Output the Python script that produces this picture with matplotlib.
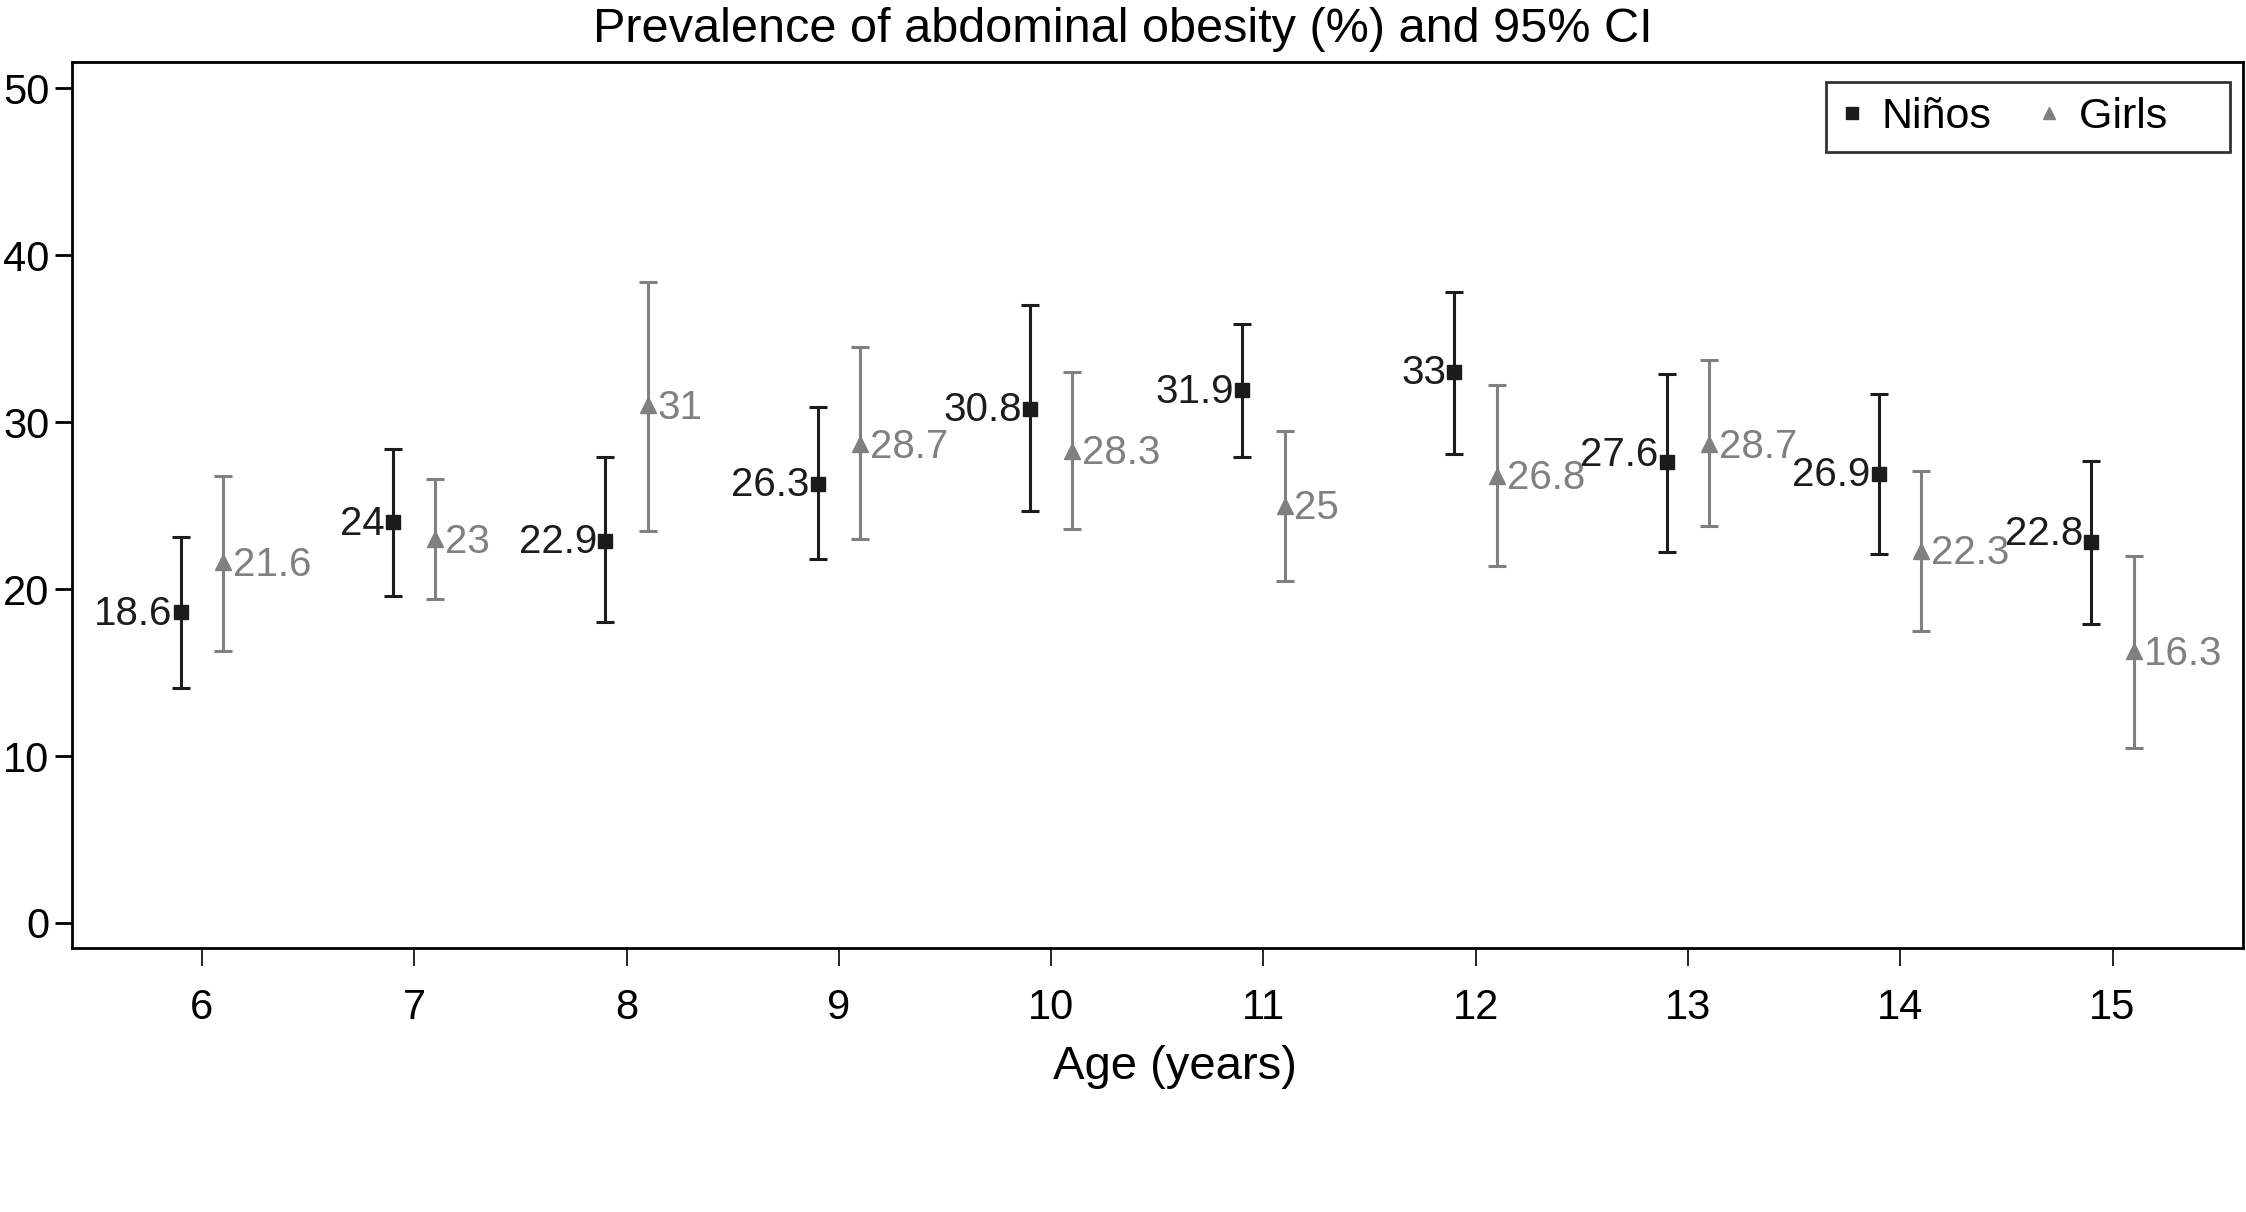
import numpy as np
import matplotlib
matplotlib.use("Agg")
import matplotlib.pyplot as plt
from matplotlib.lines import Line2D

plt.rcParams['font.family'] = ['Liberation Sans', 'DejaVu Sans']

# datos
ages = [6, 7, 8, 9, 10, 11, 12, 13, 14, 15]

boys = [18.6, 24, 22.9, 26.3, 30.8, 31.9, 33, 27.6, 26.9, 22.8]
boys_lo = [14.1, 19.6, 18.0, 21.8, 24.7, 27.9, 28.1, 22.2, 22.1, 17.9]
boys_hi = [23.1, 28.4, 27.9, 30.9, 37.0, 35.9, 37.8, 32.9, 31.7, 27.7]

girls = [21.6, 23, 31, 28.7, 28.3, 25, 26.8, 28.7, 22.3, 16.3]
girls_lo = [16.3, 19.4, 23.5, 23.0, 23.6, 20.5, 21.4, 23.8, 17.5, 10.5]
girls_hi = [26.8, 26.6, 38.4, 34.5, 33.0, 29.5, 32.2, 33.7, 27.1, 22.0]

boys_txt = ["18.6", "24", "22.9", "26.3", "30.8", "31.9", "33", "27.6", "26.9", "22.8"]
girls_txt = ["21.6", "23", "31", "28.7", "28.3", "25", "26.8", "28.7", "22.3", "16.3"]

c_boys = "#1c1c1c"
c_girls = "#808080"

x = np.array(ages, dtype=float)
b = np.array(boys)
g = np.array(girls)

fig = plt.figure(figsize=(22.46, 12.12), dpi=100)
ax = fig.add_axes([0.0319, 0.2178, 0.9668, 0.7314])

ax.errorbar(x - 0.1, b, yerr=[b - np.array(boys_lo), np.array(boys_hi) - b],
            fmt="s", color=c_boys, ecolor=c_boys, markersize=10, elinewidth=2.2,
            capsize=6.5, capthick=2.2, zorder=3)
ax.errorbar(x + 0.1, g, yerr=[g - np.array(girls_lo), np.array(girls_hi) - g],
            fmt="^", color=c_girls, ecolor=c_girls, markersize=11, elinewidth=2.2,
            capsize=6.5, capthick=2.2, zorder=3)

# etiquetas de los valores (algunas van un poco arriba)
up = {7: 6, 9: 7}
for i in range(len(ages)):
    ax.annotate(boys_txt[i], (x[i] - 0.1, b[i]), xytext=(-6, -1 + up.get(i, 0)),
                textcoords="offset points", ha="right", va="center",
                fontsize=29, color=c_boys)
    ax.annotate(girls_txt[i], (x[i] + 0.1, g[i]), xytext=(7, -2),
                textcoords="offset points", ha="left", va="center",
                fontsize=29, color=c_girls)

ax.set_xlim(5.386, 15.615)
ax.set_ylim(-1.5, 51.6)
ax.set_xticks(ages)
ax.set_yticks([0, 10, 20, 30, 40, 50])
ax.tick_params(axis="y", length=12, width=2, pad=4, labelsize=30)
ax.tick_params(axis="x", length=13, width=1.2, pad=16, labelsize=30)
for s in ax.spines.values():
    s.set_linewidth(2)

ax.set_xlabel("Age (years)", fontsize=34)
ax.xaxis.set_label_coords(0.508, -0.134)
ax.xaxis.label.set_va("center")
fig.text(0.5, 0.976, "Prevalence of abdominal obesity (%) and 95% CI",
         ha="center", va="center", fontsize=35)

handles = [Line2D([], [], marker="s", color=c_boys, linestyle="none", markersize=9),
           Line2D([], [], marker="^", color=c_girls, linestyle="none", markersize=9)]
# espacios al final para dejar hueco a la derecha como en el original
leg = ax.legend(handles, ["Niños", "Girls    "], loc="upper right", ncol=2,
                fontsize=31, frameon=True, fancybox=False, handlelength=0.5,
                handletextpad=0.45, columnspacing=1.07, borderpad=0.35,
                borderaxespad=0, bbox_to_anchor=(0.994, 0.977))
leg.get_frame().set_edgecolor("black")
leg.get_frame().set_linewidth(2)

fig.savefig("out.png", dpi=100)
